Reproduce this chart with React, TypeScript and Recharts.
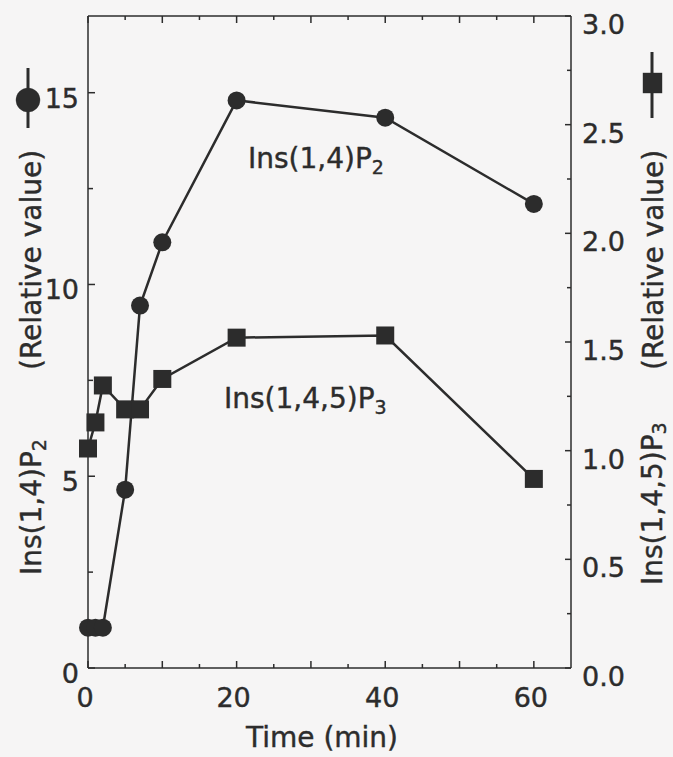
import React from 'react';
import { LineChart, Line, XAxis, YAxis } from 'recharts';

// time points (min) and the two series
const times = [0, 1, 2, 5, 7, 10, 20, 40, 60];
const ins14P2 = [1.05, 1.05, 1.05, 4.65, 9.45, 11.1, 14.8, 14.35, 12.1];
const ins145P3 = [1.01, 1.13, 1.3, 1.19, 1.19, 1.33, 1.52, 1.53, 0.87];

const xTicks = [0, 5, 10, 15, 20, 25, 30, 35, 40, 45, 50, 55, 60];
const xLabels = [0, 20, 40, 60];
const leftTicks = [0, 2.5, 5, 7.5, 10, 12.5, 15];
const leftLabels = [0, 5, 10, 15];
const rightTicks = [0, 0.25, 0.5, 0.75, 1, 1.25, 1.5, 1.75, 2, 2.25, 2.5, 2.75, 3];
const rightLabels = [0, 0.5, 1, 1.5, 2, 2.5, 3];

const data = times.map((t, i) => ({ time: t, p2: ins14P2[i], p3: ins145P3[i] }));

const INK = '#2c2c2c';
const FONT = '"DejaVu Sans", sans-serif';
const FS = 27;

const BottomTick = ({ x, y, payload }: any) => {
  const v = payload.value;
  const len = v % 10 === 0 ? 7 : 4;
  return (
    <g>
      <line x1={x} y1={y} x2={x} y2={y - len} stroke={INK} strokeWidth={1.5} />
      {xLabels.includes(v) && (
        <text x={x - 3} y={y + 39} textAnchor="middle" fontFamily={FONT} fontSize={FS} fill={INK} stroke={INK} strokeWidth={0.4}>
          {v}
        </text>
      )}
    </g>
  );
};

const TopTick = ({ x, y, payload }: any) => {
  const len = payload.value % 10 === 0 ? 7 : 4;
  return <line x1={x} y1={y} x2={x} y2={y + len} stroke={INK} strokeWidth={1.5} />;
};

const LeftTick = ({ x, y, payload }: any) => {
  const v = payload.value;
  const major = leftLabels.includes(v);
  return (
    <g>
      <line x1={x} y1={y} x2={x + (major ? 7 : 5)} y2={y} stroke={INK} strokeWidth={1.5} />
      {major && (
        <text x={x - 9} y={y + 15} textAnchor="end" fontFamily={FONT} fontSize={FS} fill={INK} stroke={INK} strokeWidth={0.4}>
          {v}
        </text>
      )}
    </g>
  );
};

const RightTick = ({ x, y, payload }: any) => {
  const v = payload.value;
  const major = rightLabels.includes(v);
  return (
    <g>
      <line x1={x} y1={y} x2={x - (major ? 6 : 4)} y2={y} stroke={INK} strokeWidth={1.5} />
      {major && (
        <text x={x + 11} y={y + 18} textAnchor="start" fontFamily={FONT} fontSize={FS} fill={INK} stroke={INK} strokeWidth={0.4}>
          {v.toFixed(1)}
        </text>
      )}
    </g>
  );
};

const CircleDot = ({ cx, cy, index }: any) => (
  <circle key={`c-${index}`} cx={cx} cy={cy} r={9} fill={INK} />
);

const SquareDot = ({ cx, cy, index }: any) => (
  <rect key={`s-${index}`} x={cx - 9} y={cy - 9} width={18} height={18} fill={INK} />
);

const Overlay = () => (
  <svg
    width={673}
    height={757}
    style={{ position: 'absolute', left: 0, top: 0, pointerEvents: 'none' }}
    fontFamily={FONT}
    fontSize={28}
    fill={INK}
    stroke={INK}
    strokeWidth={0.4}
  >
    {/* left axis title */}
    <text x={41} y={575} transform="rotate(-90 41 575)">
      Ins(1,4)P<tspan dy={5} fontSize={19}>2</tspan>
    </text>
    <text x={41} y={370} transform="rotate(-90 41 370)">(Relative value)</text>
    <line x1={28} y1={68} x2={28} y2={128} strokeWidth={3} />
    <circle cx={28} cy={100} r={12} />

    {/* right axis title */}
    <text x={662} y={585} transform="rotate(-90 662 585)">
      Ins(1,4,5)P<tspan dy={4} fontSize={19}>3</tspan>
    </text>
    <text x={663} y={370} transform="rotate(-90 663 370)">(Relative value)</text>
    <line x1={652} y1={52} x2={652} y2={118} strokeWidth={3} />
    <rect x={643} y={73} width={19} height={20} />

    {/* series annotations */}
    <text x={248} y={168}>
      Ins(1,4)P<tspan dy={6} fontSize={19}>2</tspan>
    </text>
    <text x={224} y={408}>
      Ins(1,4,5)P<tspan dy={6} fontSize={19}>3</tspan>
    </text>

    <text x={322} y={747} textAnchor="middle">Time (min)</text>
  </svg>
);

export default function App() {
  return (
    <div style={{ position: 'absolute', left: 0, top: 0, width: 673, height: 757, background: '#f6f5f5' }}>
      <LineChart
        width={673}
        height={757}
        data={data}
        margin={{ top: 6, right: 82, bottom: 59, left: 68 }}
      >
        <XAxis
          xAxisId="bottom"
          dataKey="time"
          type="number"
          domain={[0, 65]}
          ticks={xTicks}
          height={30}
          tickSize={0}
          tickMargin={0}
          tickLine={false}
          tick={<BottomTick />}
          axisLine={{ stroke: INK, strokeWidth: 1.5 }}
          interval={0}
        />
        <XAxis
          xAxisId="top"
          orientation="top"
          dataKey="time"
          type="number"
          domain={[0, 65]}
          ticks={xTicks}
          height={10}
          tickSize={0}
          tickMargin={0}
          tickLine={false}
          tick={<TopTick />}
          axisLine={{ stroke: INK, strokeWidth: 1.5 }}
          interval={0}
        />
        <YAxis
          yAxisId="left"
          type="number"
          domain={[0, 17]}
          ticks={leftTicks}
          width={20}
          tickSize={0}
          tickMargin={0}
          tickLine={false}
          tick={<LeftTick />}
          axisLine={{ stroke: INK, strokeWidth: 1.5 }}
          interval={0}
        />
        <YAxis
          yAxisId="right"
          orientation="right"
          type="number"
          domain={[0, 3]}
          ticks={rightTicks}
          width={20}
          tickSize={0}
          tickMargin={0}
          tickLine={false}
          tick={<RightTick />}
          axisLine={{ stroke: INK, strokeWidth: 1.5 }}
          interval={0}
        />
        <Line
          xAxisId="bottom"
          yAxisId="left"
          dataKey="p2"
          stroke={INK}
          strokeWidth={2.5}
          dot={CircleDot}
          activeDot={false}
          isAnimationActive={false}
        />
        <Line
          xAxisId="bottom"
          yAxisId="right"
          dataKey="p3"
          stroke={INK}
          strokeWidth={2.5}
          dot={SquareDot}
          activeDot={false}
          isAnimationActive={false}
        />
      </LineChart>
      <Overlay />
    </div>
  );
}
